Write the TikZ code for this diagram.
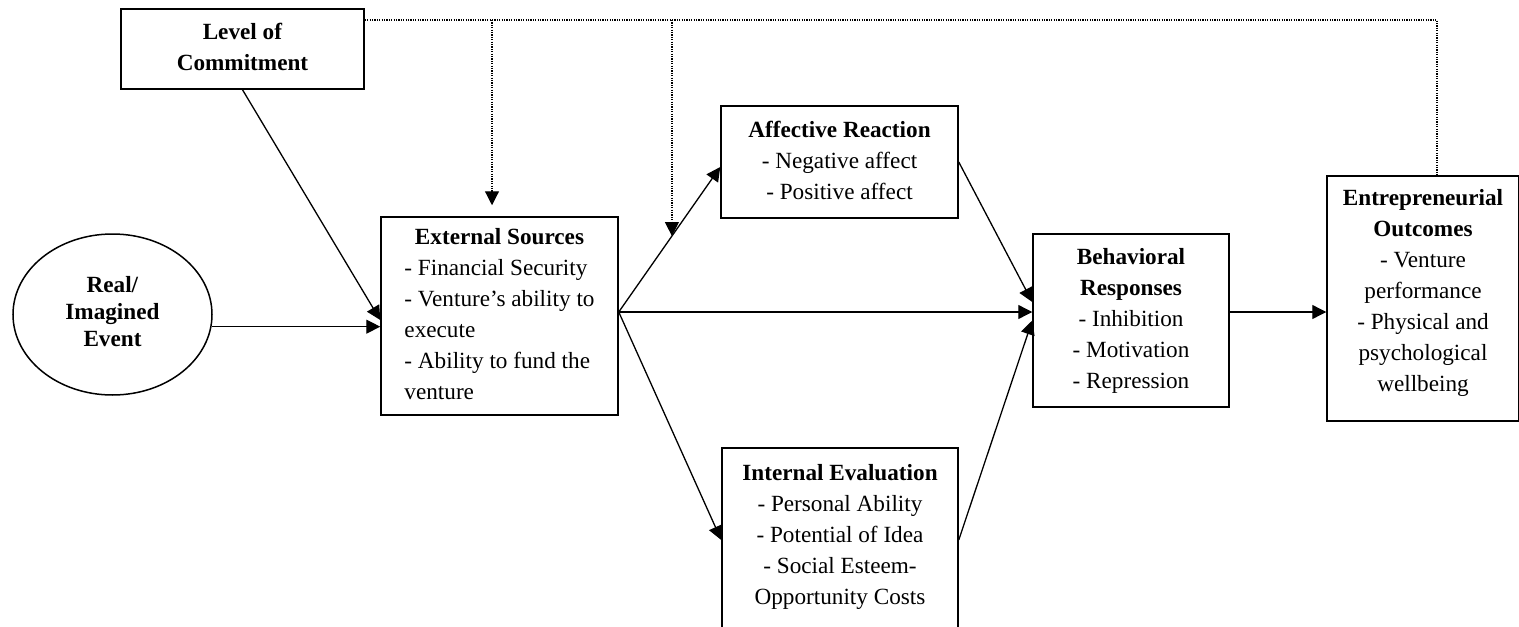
\documentclass[tikz,border=0pt]{standalone}
\usepackage{fontspec}
\setmainfont{Liberation Serif}
\usetikzlibrary{arrows.meta,shapes.geometric}

\begin{document}
\begin{tikzpicture}[x=0.5pt,y=-0.5pt,
  box/.style={draw,line width=0.75pt,inner sep=0pt,font=\fontsize{11.6}{15.5}\selectfont},
  flowarrow/.style={line width=0.65pt,-{Triangle[length=7pt,width=7pt]}},
  dotline/.style={line width=0.6pt,dash pattern=on 0.6pt off 0.6pt},
  dotarrow/.style={dotline,-{Triangle[length=7pt,width=7pt]}}]
\useasboundingbox (0,0) rectangle (1519,626);

% boxes
\node[box,minimum width=121.5pt,minimum height=40pt] (lvl) at (242.5,49) {
\begin{tabular}{@{}c@{}}
\textbf{Level of}\\
\textbf{Commitment}
\end{tabular}
};
\node[box,ellipse,minimum width=99.5pt,minimum height=80.5pt,
  font=\fontsize{11.6}{13.5}\selectfont] (ell) at (112.5,314.5) {
\begin{tabular}{@{}c@{}}
\textbf{Real/}\\
\textbf{Imagined}\\
\textbf{Event}
\end{tabular}
};
\node[box,minimum width=118.5pt,minimum height=99pt] (ext) at (499.5,316) {
\begin{tabular}{@{}l@{}}
\multicolumn{1}{@{}c@{}}{\textbf{External Sources}}\\
- Financial Security\\
- Venture’s ability to\\
execute\\
- Ability to fund the\\
venture
\end{tabular}
};
\node[box,minimum width=118.5pt,minimum height=56pt] (aff) at (839.5,162) {
\begin{tabular}{@{}c@{}}
\textbf{Affective Reaction}\\
- Negative affect\\
- Positive affect
\end{tabular}
};
\node[box,anchor=north,minimum width=118pt,inner ysep=5.5pt] (int) at (840,447) {
\begin{tabular}{@{}c@{}}
\textbf{Internal Evaluation}\\
- Personal Ability\\
- Potential of Idea\\
- Social Esteem-\\
Opportunity Costs\rule[-25pt]{0pt}{0pt}
\end{tabular}
};
\node[box,minimum width=98pt,minimum height=86.5pt] (beh) at (1131,320.5) {
\begin{tabular}{@{}c@{}}
\textbf{Behavioral}\\
\textbf{Responses}\\
- Inhibition\\
- Motivation\\
- Repression
\end{tabular}
};
\node[box,minimum width=96pt,minimum height=122.5pt] (ent) at (1423,298.5) {
\begin{tabular}{@{}c@{}}
\textbf{Entrepreneurial}\\
\textbf{Outcomes}\\
- Venture\\
performance\\
- Physical and\\
psychological\\
wellbeing\rule[-10.6pt]{0pt}{0pt}
\end{tabular}
};

% solid paths
\draw[flowarrow] (ell.-7) -- (ell.-7 -| ext.west);
\draw[flowarrow] (lvl.south) -- ([yshift=-2pt]ext.west);
\draw[flowarrow] ([yshift=2pt]ext.east) -- coordinate[pos=0.524] (d2) ([yshift=-2.5pt]aff.west);
\draw[flowarrow] ([yshift=2pt]ext.east) -- ([yshift=4.25pt]beh.west);
\draw[flowarrow] ([yshift=2pt]ext.east) -- ([yshift=-46.5pt]int.north west);
\draw[flowarrow] (aff.east) -- ([yshift=9.25pt]beh.west);
\draw[flowarrow] ([yshift=-46.5pt]int.north east) -- (beh.west);
\coordinate (b1) at ([yshift=4.25pt]beh.east);
\draw[flowarrow] (b1) -- (b1 -| ent.west);

% dotted moderation
\coordinate (top) at ([yshift=14.5pt]lvl.east);
\coordinate (d1) at ([xshift=-3.75pt,yshift=5.5pt]ext.north);
\draw[dotline] (top) -| ([xshift=7pt]ent.north);
\draw[dotarrow] (d1 |- top) -- (d1);
\draw[dotarrow] (d2 |- top) -- (d2);
\end{tikzpicture}
\end{document}
